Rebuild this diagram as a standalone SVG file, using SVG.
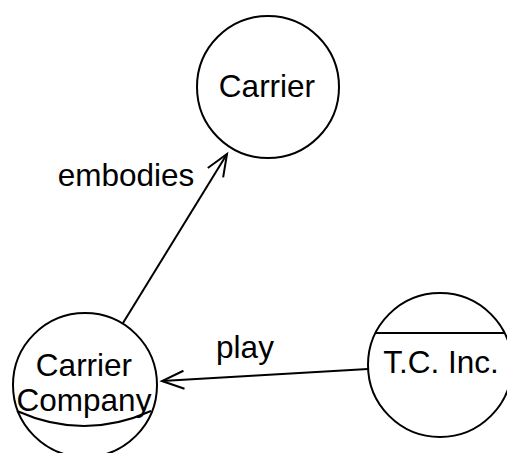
<svg xmlns="http://www.w3.org/2000/svg" width="507" height="453" viewBox="0 0 507 453">
  <style>
    .node { fill: #ffffff; stroke: #000000; stroke-width: 2; }
    .divider { fill: none; stroke: #000000; stroke-width: 2; }
    .edge { fill: none; stroke: #000000; stroke-width: 2; }
    .label { font-family: "Liberation Sans", Arial, Helvetica, sans-serif; font-size: 31.5px; fill: #000000; text-anchor: middle; }
  </style>
  <defs>
    <marker id="open-arrow" markerUnits="userSpaceOnUse" markerWidth="30" markerHeight="30" viewBox="-25 -15 30 30" refX="0" refY="0" orient="auto">
      <path d="M-22,-9 L0,0 L-22,9" fill="none" stroke="#000000" stroke-width="2"/>
    </marker>
  </defs>

  <rect x="0" y="0" width="507" height="453" fill="#ffffff"/>

  <g id="connectors">
    <line class="edge" x1="123" y1="323" x2="227" y2="154" marker-end="url(#open-arrow)"/>
    <text class="label" x="126" y="186">embodies</text>
    <line class="edge" x1="368" y1="369" x2="162" y2="381" marker-end="url(#open-arrow)"/>
    <text class="label" x="245" y="358">play</text>
  </g>

  <g id="carrier">
    <circle class="node" cx="268" cy="87" r="71"/>
    <text class="label" x="267" y="97">Carrier</text>
  </g>

  <g id="carrier-company">
    <circle class="node" cx="85" cy="385" r="72"/>
    <path class="divider" d="M17,411 Q84,441 151,411"/>
    <text class="label" x="84" y="376">Carrier</text>
    <text class="label" x="84" y="411">Company</text>
  </g>

  <g id="tc-inc">
    <circle class="node" cx="440" cy="365" r="72"/>
    <line class="divider" x1="376" y1="333" x2="505" y2="333"/>
    <text class="label" x="441" y="373">T.C. Inc.</text>
  </g>
</svg>
